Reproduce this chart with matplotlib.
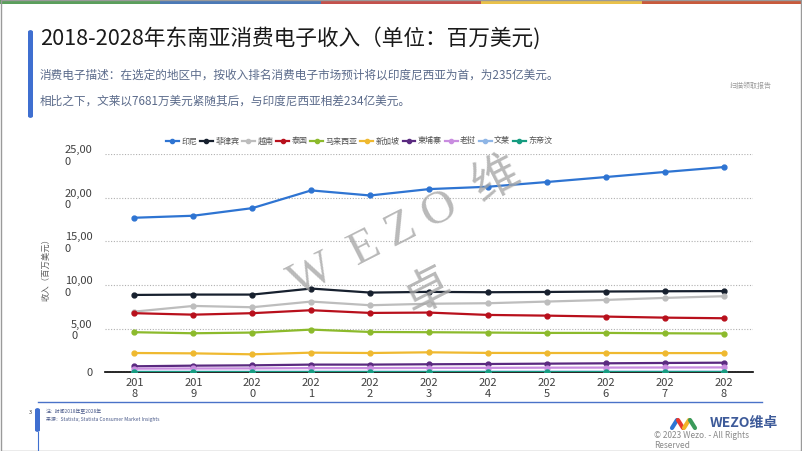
import matplotlib.pyplot as plt
from matplotlib.patches import Rectangle, FancyBboxPatch
from matplotlib.lines import Line2D

plt.rcParams['font.family'] = ['Noto Sans CJK SC', 'DejaVu Sans']

# 数据（百万美元）
years = ['2018', '2019', '2020', '2021', '2022', '2023', '2024', '2025', '2026', '2027', '2028']
country_names = ['印尼', '菲律宾', '越南', '泰国', '马来西亚', '新加坡', '柬埔寨', '老挝', '文莱', '东帝汶']
indonesia = [17700, 17930, 18800, 20830, 20250, 20980, 21250, 21790, 22360, 22940, 23500]
philippines = [8860, 8900, 8900, 9590, 9130, 9210, 9170, 9200, 9250, 9280, 9300]
vietnam = [6950, 7600, 7450, 8100, 7680, 7850, 7910, 8100, 8290, 8520, 8710]
thailand = [6770, 6600, 6770, 7110, 6800, 6840, 6570, 6490, 6380, 6260, 6190]
malaysia = [4590, 4470, 4550, 4890, 4620, 4590, 4550, 4510, 4510, 4470, 4440]
singapore = [2210, 2170, 2060, 2250, 2210, 2290, 2220, 2210, 2210, 2200, 2200]
cambodia = [690, 760, 800, 880, 880, 920, 950, 990, 1030, 1070, 1100]
laos = [420, 440, 450, 480, 480, 500, 510, 530, 540, 550, 560]
brunei = [70, 70, 70, 75, 74, 74, 75, 75, 76, 76, 77]
timor = [20, 20, 20, 22, 22, 23, 24, 25, 26, 27, 28]
series = [indonesia, philippines, vietnam, thailand, malaysia, singapore, cambodia, laos, brunei, timor]
colors = ['#2e74d2', '#17202e', '#bdbdbd', '#b8101c', '#8cba2c', '#efb930', '#5a2a80', '#c98de0', '#8fb6e6', '#169c80']

yticks = [0, 5000, 10000, 15000, 20000, 25000]
ytick_labels = ['0', '5,00\n0', '10,00\n0', '15,00\n0', '20,00\n0', '25,00\n0']

W, H = 802, 451
fig = plt.figure(figsize=(W / 100, H / 100), dpi=100)

def fx(px):
    return px / W

def fy(py):
    return 1 - py / H

# 顶部彩条
stripe_colors = ['#5b9f5c', '#4b79b6', '#c3514c', '#e9c14a', '#c85a3c']
for i, c in enumerate(stripe_colors):
    fig.add_artist(Rectangle((i * 0.2, fy(4)), 0.2, 4 / H, transform=fig.transFigure, color=c, lw=0))

# 边框
fig.add_artist(Rectangle((0.001, 0.001), 0.998, 0.998, transform=fig.transFigure,
                         fill=False, ec='#9a9a9a', lw=1))

# 标题左侧竖条
fig.add_artist(FancyBboxPatch((fx(28), fy(118)), 5 / W, 88 / H, transform=fig.transFigure,
                              boxstyle='round,pad=0,rounding_size=0.004', color='#3f6fd0', lw=0))

fig.text(fx(40), fy(38), '2018-2028年东南亚消费电子收入（单位：百万美元)', fontsize=15.6,
         color='#1a1a1a', va='center', ha='left')
fig.text(fx(40), fy(75), '消费电子描述：在选定的地区中，按收入排名消费电子市场预计将以印度尼西亚为首，为235亿美元。',
         fontsize=8.4, color='#5a6a8a', va='center', ha='left')
fig.text(fx(40), fy(101), '相比之下，文莱以7681万美元紧随其后，与印度尼西亚相差234亿美元。',
         fontsize=8.4, color='#5a6a8a', va='center', ha='left')
fig.text(fx(730), fy(86), '扫描领取报告', fontsize=5, color='#9a9a9a', va='center', ha='left')

# 主图
ax = fig.add_axes([fx(105), fy(372.3), 648 / W, 218.3 / H])
x = list(range(len(years)))
for name, vals, c in zip(country_names, series, colors):
    ax.plot(x, vals, color=c, lw=1.6, marker='o', ms=3.5, label=name)

ax.set_xlim(-0.5, len(years) - 0.5)
ax.set_ylim(0, 25000)
ax.set_yticks(yticks)
ax.set_yticklabels(ytick_labels, multialignment='left', fontsize=8, color='#404040')
ax.set_xticks(x)
ax.set_xticklabels([y[:3] + '\n' + y[3:] for y in years], fontsize=8, color='#404040',
                   linespacing=1.1)
ax.tick_params(axis='x', length=0, pad=4)
ax.tick_params(axis='y', length=0, pad=9)
ax.yaxis.grid(True, ls=(0, (1, 1.5)), color='#b0b0b0', lw=0.8)
ax.set_axisbelow(True)
for s in ['top', 'right', 'left']:
    ax.spines[s].set_visible(False)
ax.spines['bottom'].set_color('black')
ax.spines['bottom'].set_linewidth(1.2)
ax.spines['bottom'].set_zorder(0.5)
ax.set_ylabel('收入（百万美元）', fontsize=6, color='#606060')
ax.yaxis.set_label_coords(-55 / 648, 0.48)

handles = [Line2D([0], [0], color=c, lw=1.6, marker='o', ms=3) for c in colors]
fig.legend(handles, country_names, loc='center', bbox_to_anchor=(fx(359), fy(141)), ncol=10,
           frameon=False, fontsize=5.8, handlelength=1.6, handletextpad=0.3, columnspacing=0.35,
           labelcolor='#505050')

# 水印
fig.text(fx(405), fy(228), 'W  E Z O  维', fontsize=34, rotation=27, color='#a8a8a8', alpha=0.8,
         ha='center', va='center', family=['Liberation Serif', 'Noto Sans CJK SC'])
fig.text(fx(428), fy(292), '卓', fontsize=34, rotation=27, color='#a8a8a8', alpha=0.8,
         ha='center', va='center')

# 页脚
fig.add_artist(Line2D([fx(38), fx(762)], [fy(402), fy(402)], transform=fig.transFigure,
                      color='#4a72c8', lw=1))
fig.add_artist(FancyBboxPatch((fx(35), fy(432)), 5 / W, 24 / H, transform=fig.transFigure,
                              boxstyle='round,pad=0,rounding_size=0.004', color='#3f6fd0', lw=0))
fig.add_artist(Line2D([fx(37.5), fx(37.5)], [fy(432), fy(451)], transform=fig.transFigure,
                      color='#3f6fd0', lw=0.8))
fig.text(fx(30), fy(413), '3', fontsize=4, color='#333333', ha='center', va='center')
fig.text(fx(46), fy(412), '注：时间2018年至2028年', fontsize=3.5, color='#4a5a8a', va='center')
fig.text(fx(46), fy(419), '来源：Statista; Statista Consumer Market Insights', fontsize=3.5,
         color='#4a5a8a', va='center')

# 标志
logo_cols = ['#2e74d2', '#e8382f', '#f2b32a', '#3b9a5a']
for i, c in enumerate(logo_cols):
    fig.add_artist(Line2D([fx(672 + i * 6), fx(677 + i * 6)], [fy(428 - (i % 2) * 8), fy(420 + (i % 2) * 8)],
                          transform=fig.transFigure, color=c, lw=3, solid_capstyle='round'))
fig.text(fx(710), fy(423), 'WEZO维卓', fontsize=10, color='#3d5a99', va='center', ha='left',
         fontweight='bold')
fig.text(fx(654), fy(436), '© 2023 Wezo. - All Rights', fontsize=6, color='#8a8a8a', va='center',
         ha='left')
fig.text(fx(654), fy(446), 'Reserved', fontsize=6, color='#8a8a8a', va='center', ha='left')

fig.savefig('out.png', dpi=100)
